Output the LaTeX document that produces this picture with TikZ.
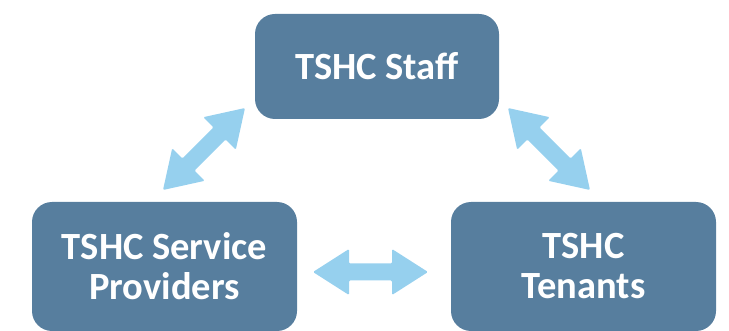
\documentclass[tikz,border=0pt]{standalone}
\usepackage{fontspec}
\setmainfont{Carlito}
\usetikzlibrary{calc}

\definecolor{boxblue}{RGB}{87,126,158}
\definecolor{arrowblue}{RGB}{150,208,238}

% block double arrow between two named coordinates
\newcommand\blockarrow[2]{%
  \fill[arrowblue, rounded corners=1.2pt]
    (#1)
    -- ($(#1)!36pt!(#2)!23pt!90:(#2)$)
    -- ($(#1)!36pt!(#2)!8.5pt!90:(#2)$)
    -- ($(#2)!36pt!(#1)!8.5pt!-90:(#1)$)
    -- ($(#2)!36pt!(#1)!23pt!-90:(#1)$)
    -- (#2)
    -- ($(#2)!36pt!(#1)!23pt!90:(#1)$)
    -- ($(#2)!36pt!(#1)!8.5pt!90:(#1)$)
    -- ($(#1)!36pt!(#2)!8.5pt!-90:(#2)$)
    -- ($(#1)!36pt!(#2)!23pt!-90:(#2)$)
    -- cycle;}

\tikzset{
  party/.style={fill=boxblue, rounded corners=20pt, text=white,
    font=\fontsize{38.5}{40}\selectfont\bfseries, align=center,
    inner sep=0pt, outer sep=0pt},
}

\begin{document}
\begin{tikzpicture}[x=1pt, y=-1pt]
  \useasboundingbox (0,0) rectangle (729,331);

  \node[party, minimum width=244pt, minimum height=105pt] (staff) at (377,66.5) {TSHC Staff};
  \node[party, minimum width=265pt, minimum height=129pt] (prov) at (164.5,266.5) {TSHC Service\\Providers};
  \node[party, minimum width=265pt, minimum height=129pt] (ten) at (583.5,266.5) {TSHC\\Tenants};

  % arrow end points between the boxes
  \coordinate (ps) at (163,190);
  \coordinate (sp) at (245,108);
  \coordinate (st) at (508,108);
  \coordinate (ts) at (590,190);
  \coordinate (pt) at (313,272);
  \coordinate (tp) at (428,272);

  \blockarrow{ps}{sp}
  \blockarrow{st}{ts}
  \blockarrow{pt}{tp}
\end{tikzpicture}
\end{document}
